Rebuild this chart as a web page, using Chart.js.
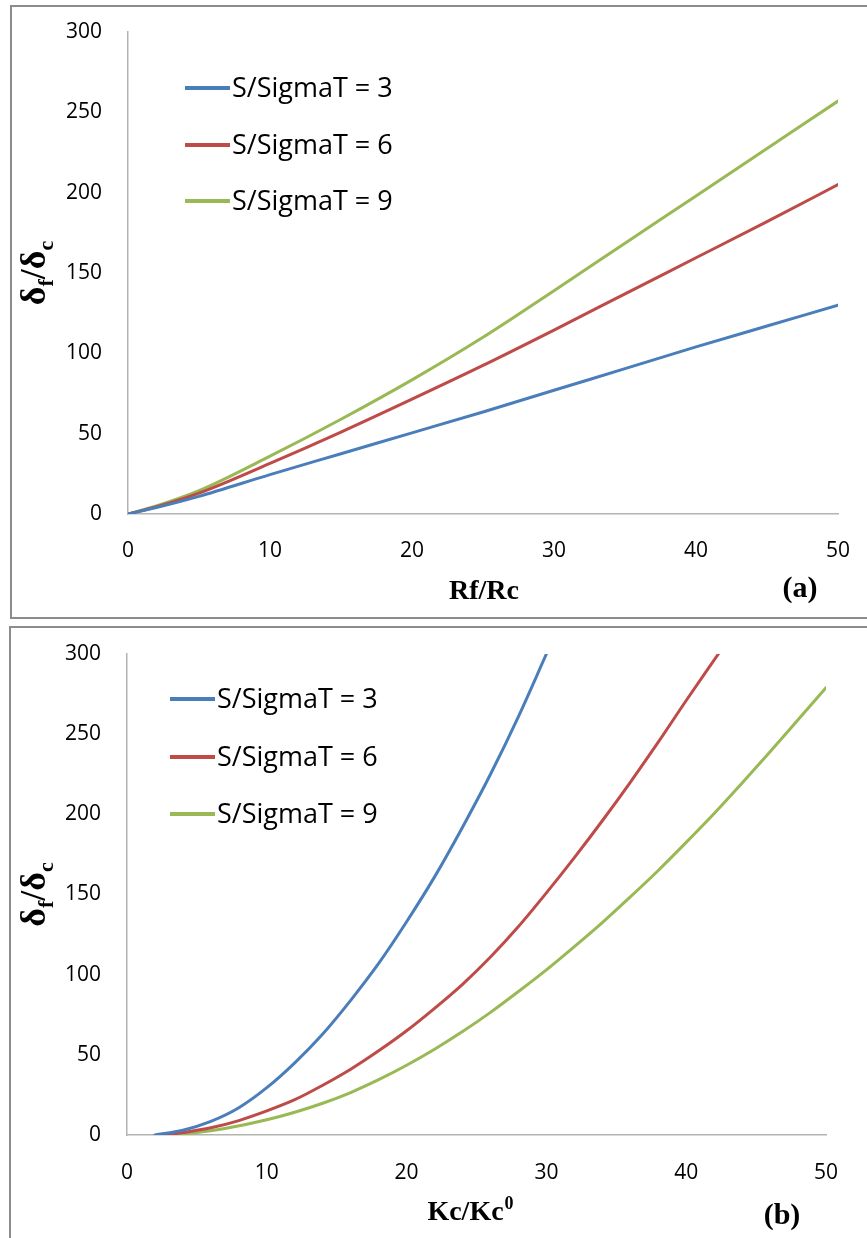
<!DOCTYPE html>
<html>
<head>
<meta charset="utf-8">
<script src="https://cdn.jsdelivr.net/npm/chart.js@4.4.1/dist/chart.umd.min.js"></script>
<style>
  html, body { margin: 0; padding: 0; background: #fff; width: 867px; height: 1238px; overflow: hidden; }
  .frame { position: absolute; border: 2px solid #8c8c8c; box-sizing: border-box; }
  .wrap { position: absolute; left: 0; width: 867px; height: 618px; }
</style>
</head>
<body>
<div class="frame" style="left:10px; top:5px; width:880px; height:614px;"></div>
<div class="frame" style="left:9px; top:626px; width:880px; height:640px;"></div>
<div class="wrap" style="top:0px;"><canvas id="ca"></canvas></div>
<div class="wrap" style="top:620px;"><canvas id="cb"></canvas></div>
<script>
// ---- Data ----
const seriesLabels = ["S/SigmaT = 3", "S/SigmaT = 6", "S/SigmaT = 9"];
const seriesColors = ["#4A7EBB", "#BE4B48", "#98B954"];

// Panel (a): x = Rf/Rc
const xA = [0, 2, 5, 10, 15, 20, 25, 30, 35, 40, 45, 50];
const a3 = [0, 4, 11, 24.5, 37.5, 50.5, 63.5, 77, 90.5, 104, 117, 130];
const a6 = [0, 4.5, 13, 31.5, 51, 71.5, 92.5, 114.5, 137, 159.5, 182, 205];
const a9 = [0, 5, 14.5, 36, 59, 83.5, 110, 139, 168.5, 198, 227.5, 257];

// Panel (b): x = Kc/Kc0
const bX3 = [2, 4, 6, 8, 10, 12, 14, 16, 18, 20, 22, 24, 26, 28, 30];
const b3  = [0, 3, 8.5, 17, 29.5, 45, 63, 84, 107, 133, 161, 192, 225, 261, 300];
const bX6 = [2.7, 4, 6, 8, 10, 12, 14, 16, 18, 20, 22, 24, 26, 28, 30, 32, 34, 36, 38, 40, 42.3];
const b6  = [0, 1.5, 4.5, 9, 15, 22, 31, 41, 52.5, 65, 79, 94, 111, 130, 151, 173, 196, 220, 245, 271, 300];
const bX9 = [3, 5, 7, 10, 12, 14, 16, 18, 20, 22, 24, 26, 28, 30, 32, 34, 36, 38, 40, 42, 44, 46, 48, 50];
const b9  = [0, 1.5, 4, 9.5, 14.2, 19.8, 26.5, 34.5, 43.5, 53.5, 64.5, 76.5, 89.5, 103, 117.5, 132.5, 148.5, 165, 182.5, 200.5, 219.5, 239, 259, 279];

const xTicks = [0, 10, 20, 30, 40, 50];
const yTicks = [0, 50, 100, 150, 200, 250, 300];

// ---- helpers ----
function pts(xs, ys) { return xs.map((x, i) => ({ x: x, y: ys[i] })); }

function makeDatasets(list) {
  return list.map((d, i) => ({
    label: seriesLabels[i],
    data: d,
    borderColor: seriesColors[i],
    backgroundColor: seriesColors[i],
    borderWidth: 3,
    borderCapStyle: 'round',
    pointRadius: 0,
    cubicInterpolationMode: 'monotone',
    fill: false
  }));
}

const tickFont = { family: "'Open Sans', sans-serif", size: 21 };

function annotPlugin(cfg) {
  return {
    id: 'annot',
    afterDraw(chart) {
      const ctx = chart.ctx;
      ctx.save();
      // legend
      chart.data.datasets.forEach((ds, i) => {
        const y = cfg.legY[i];
        ctx.strokeStyle = ds.borderColor;
        ctx.lineWidth = 4;
        ctx.beginPath();
        ctx.moveTo(cfg.legX0, y);
        ctx.lineTo(cfg.legX1, y);
        ctx.stroke();
        ctx.fillStyle = '#000';
        ctx.font = "27px 'Open Sans', sans-serif";
        ctx.textAlign = 'left';
        ctx.textBaseline = 'middle';
        ctx.fillText(ds.label, cfg.legX1 + 2, y + 1);
      });
      // y axis title: δf/δc rotated
      const area = chart.chartArea;
      const cy = (area.top + area.bottom) / 2;
      ctx.translate(cfg.yTitleX, cy);
      ctx.rotate(-Math.PI / 2);
      const big = "bold 36px 'Liberation Serif', serif";
      const small = "bold 22px 'Liberation Serif', serif";
      const parts = [["δ", big, 0], ["f", small, 8], ["/δ", big, 0], ["c", small, 8]];
      let total = 0;
      parts.forEach(p => { ctx.font = p[1]; total += ctx.measureText(p[0]).width; });
      let x = -total / 2;
      ctx.fillStyle = '#000';
      ctx.textAlign = 'left';
      ctx.textBaseline = 'alphabetic';
      parts.forEach(p => { ctx.font = p[1]; ctx.fillText(p[0], x, p[2]); x += ctx.measureText(p[0]).width; });
      ctx.setTransform(1, 0, 0, 1, 0, 0);
      // x axis title
      ctx.fillStyle = '#000';
      ctx.textBaseline = 'middle';
      ctx.font = "bold 28px 'Liberation Serif', serif";
      if (cfg.xTitleSup) {
        ctx.textAlign = 'left';
        const w1 = ctx.measureText(cfg.xTitle).width;
        ctx.font = "bold 18px 'Liberation Serif', serif";
        const w2 = ctx.measureText(cfg.xTitleSup).width;
        const start = cfg.xTitleX - (w1 + w2) / 2;
        ctx.font = "bold 28px 'Liberation Serif', serif";
        ctx.fillText(cfg.xTitle, start, cfg.xTitleY);
        ctx.font = "bold 18px 'Liberation Serif', serif";
        ctx.fillText(cfg.xTitleSup, start + w1 + 1, cfg.xTitleY - 9);
      } else {
        ctx.textAlign = 'center';
        ctx.fillText(cfg.xTitle, cfg.xTitleX, cfg.xTitleY);
      }
      // panel label
      ctx.font = "bold 30px 'Liberation Serif', serif";
      ctx.textAlign = 'center';
      ctx.fillText(cfg.panel, cfg.panelX, cfg.panelY);
      ctx.restore();
    }
  };
}

function makeChart(id, datasets, lay, annot) {
  return new Chart(document.getElementById(id), {
    type: 'line',
    data: { datasets: datasets },
    options: {
      responsive: true,
      maintainAspectRatio: false,
      animation: false,
      events: [],
      layout: { padding: { left: 0, top: lay.top, right: lay.right, bottom: 0 } },
      plugins: { legend: { display: false }, tooltip: { enabled: false } },
      scales: {
        x: {
          type: 'linear', min: 0, max: 50,
          afterBuildTicks: s => { s.ticks = xTicks.map(v => ({ value: v })); },
          afterFit: s => { s.height = lay.xh; s.paddingLeft = 0; s.paddingRight = 0; },
          grid: { color: 'rgba(0,0,0,0)', drawTicks: false },
          border: { display: true, color: '#b3b3b3', width: 1.5 },
          ticks: { color: '#000', font: tickFont, padding: lay.xpad, maxRotation: 0, autoSkip: false }
        },
        y: {
          type: 'linear', min: 0, max: 300,
          afterBuildTicks: s => { s.ticks = yTicks.map(v => ({ value: v })); },
          afterFit: s => { s.width = lay.yw; s.paddingTop = 0; s.paddingBottom = 0; },
          grid: { color: 'rgba(0,0,0,0)', drawTicks: false },
          border: { display: true, color: '#b3b3b3', width: 1.5 },
          ticks: { color: '#000', font: tickFont, padding: 26 }
        }
      }
    },
    plugins: [annotPlugin(annot)]
  });
}

makeChart('ca',
  makeDatasets([pts(xA, a3), pts(xA, a6), pts(xA, a9)]),
  { top: 32, right: 29, xh: 104, yw: 128, xpad: 24 },
  { legX0: 185, legX1: 230, legY: [88, 145, 201], yTitleX: 45,
    xTitle: "Rf/Rc", xTitleX: 484, xTitleY: 592, panel: "(a)", panelX: 800, panelY: 589 }
);

makeChart('cb',
  makeDatasets([pts(bX3, b3), pts(bX6, b6), pts(bX9, b9)]),
  { top: 34, right: 41, xh: 103, yw: 127, xpad: 25 },
  { legX0: 170, legX1: 215, legY: [79, 137, 194], yTitleX: 45,
    xTitle: "Kc/Kc", xTitleSup: "0", xTitleX: 470, xTitleY: 593, panel: "(b)", panelX: 782, panelY: 596 }
);
</script>
</body>
</html>
